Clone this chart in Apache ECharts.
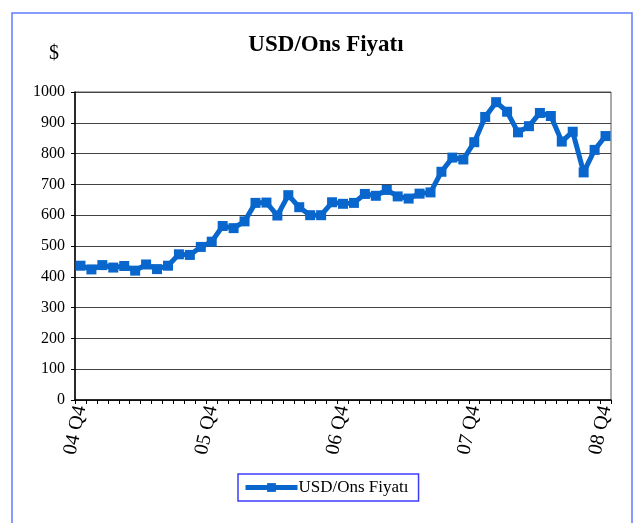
<!DOCTYPE html>
<html>
<head>
<meta charset="utf-8">
<script src="https://cdn.jsdelivr.net/npm/echarts@6/dist/echarts.min.js"></script>
<style>
  html, body { margin: 0; padding: 0; background: #fff; }
  #chart { width: 643px; height: 523px; }
</style>
</head>
<body>
<div id="chart"></div>
<script>
  // monthly, Dec 2004 .. Dec 2008
  var months = [
    '04 Q4',
    '05 Q1', '05 Q1', '05 Q1', '05 Q2', '05 Q2', '05 Q2', '05 Q3', '05 Q3', '05 Q3', '05 Q4', '05 Q4', '05 Q4',
    '06 Q1', '06 Q1', '06 Q1', '06 Q2', '06 Q2', '06 Q2', '06 Q3', '06 Q3', '06 Q3', '06 Q4', '06 Q4', '06 Q4',
    '07 Q1', '07 Q1', '07 Q1', '07 Q2', '07 Q2', '07 Q2', '07 Q3', '07 Q3', '07 Q3', '07 Q4', '07 Q4', '07 Q4',
    '08 Q1', '08 Q1', '08 Q1', '08 Q2', '08 Q2', '08 Q2', '08 Q3', '08 Q3', '08 Q3', '08 Q4', '08 Q4', '08 Q4'
  ];
  var usdOns = [
    436, 424, 438, 430, 435, 420, 440, 425, 436, 473, 471, 497,
    514, 565, 558, 580, 640, 641, 599, 665, 626, 600, 600, 642,
    637, 640, 669, 663, 682, 661, 654, 670, 674, 741, 787, 781,
    837, 919, 967, 936, 869, 889, 932, 922, 839, 871, 739, 812,
    857
  ];
  var seriesName = 'USD/Ons Fiyatı';
  var serif = '"Liberation Serif", "DejaVu Serif", serif';
  var blue = '#0866cc';

  var myChart = echarts.init(document.getElementById('chart'));
  var option = {
    animation: false,
    textStyle: { fontFamily: serif, color: '#000' },
    title: {
      text: seriesName,
      left: 321,
      top: 29,
      textAlign: 'center',
      textStyle: { fontFamily: serif, fontSize: 23, fontWeight: 'bold', color: '#000' }
    },
    graphic: [
      {
        type: 'rect',
        shape: { x: 12, y: 13, width: 620, height: 530 },
        style: { fill: 'none', stroke: '#5f7dff', lineWidth: 1.5 },
        silent: true
      },
      {
        type: 'text',
        left: 49,
        top: 44,
        style: { text: '$', font: '20px ' + serif, fill: '#000' }
      }
    ],
    legend: {
      data: [seriesName],
      left: 238,
      top: 474,
      padding: [5, 10, 5, 5],
      borderColor: '#3c3cff',
      borderWidth: 1.5,
      itemWidth: 52,
      itemHeight: 11,
      itemGap: 2,
      lineStyle: { width: 5 },
      textStyle: { fontFamily: serif, fontSize: 17, color: '#000', padding: [0, 0, 0, -4] }
    },
    grid: {
      left: 75,
      right: 32,
      top: 92,
      bottom: 123,
      show: true,
      borderColor: '#555',
      borderWidth: 1
    },
    xAxis: {
      type: 'category',
      data: months,
      boundaryGap: true,
      axisLine: { lineStyle: { color: '#000', width: 1.5 } },
      axisTick: { show: true, interval: 0, length: 4, lineStyle: { color: '#000' } },
      axisLabel: {
        interval: 11,
        rotate: 78,
        margin: 6,
        fontFamily: serif,
        fontSize: 20,
        color: '#000'
      },
      splitLine: { show: false }
    },
    yAxis: {
      type: 'value',
      min: 0,
      max: 1000,
      interval: 100,
      axisLine: { show: true, lineStyle: { color: '#000', width: 1.5 } },
      axisTick: { show: true, length: 4, lineStyle: { color: '#000' } },
      axisLabel: {
        margin: 10,
        fontFamily: serif,
        fontSize: 16,
        color: '#000',
        formatter: function (v) { return String(v); }
      },
      splitLine: { show: true, lineStyle: { color: '#444', width: 1 } }
    },
    series: [{
      name: seriesName,
      type: 'line',
      data: usdOns,
      symbol: 'rect',
      symbolSize: 10,
      showAllSymbol: true,
      color: blue,
      lineStyle: { width: 5, color: blue },
      itemStyle: { color: blue }
    }]
  };
  myChart.setOption(option);
</script>
</body>
</html>
